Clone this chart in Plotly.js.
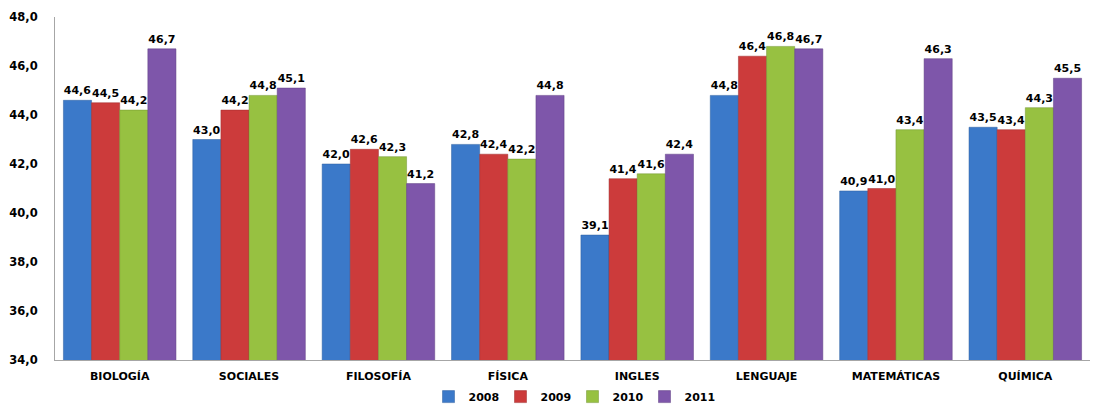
<!DOCTYPE html>
<html><head><meta charset="utf-8">
<script src="https://cdn.plot.ly/plotly-3.0.1.min.js"></script>
<style>html,body{margin:0;padding:0;background:#fff;}#chart{width:1099px;height:411px;}</style>
</head><body><div id="chart"></div>
<script>
const categories = ["BIOLOGÍA","SOCIALES","FILOSOFÍA","FÍSICA","INGLES","LENGUAJE","MATEMÁTICAS","QUÍMICA"];
const years = ["2008","2009","2010","2011"];
const v2008 = [44.6,43.0,42.0,42.8,39.1,44.8,40.9,43.5];
const v2009 = [44.5,44.2,42.6,42.4,41.4,46.4,41.0,43.4];
const v2010 = [44.2,44.8,42.3,42.2,41.6,46.8,43.4,44.3];
const v2011 = [46.7,45.1,41.2,44.8,42.4,46.7,46.3,45.5];
const colors = ["#3b79c9","#cc3b3b","#97c141","#7e56aa"];
const lines = ["#2d5f9e","#9e2d2d","#739432","#5f3f82"];
const series = [v2008,v2009,v2010,v2011];
const font = "DejaVu Sans, Verdana, sans-serif";
const traces = series.map((vals,i)=>({
  type:"bar", name:years[i], x:categories, y:vals,
  marker:{color:colors[i], line:{color:lines[i], width:0.5}},
  texttemplate:"%{y:.1f}", textposition:"outside", cliponaxis:false,
  textfont:{family:font, size:11, color:"#000", weight:"bold"}
}));
Plotly.newPlot("chart", traces, {
  width:1099, height:411,
  margin:{l:55, r:9, t:17, b:51, autoexpand:false},
  barmode:"group", bargap:0.13, bargroupgap:0,
  separators:",.",
  paper_bgcolor:"#fff", plot_bgcolor:"#fff",
  font:{family:font, size:11, color:"#000", weight:"bold"},
  xaxis:{showline:true, linecolor:"#a6a6a6", linewidth:1, ticks:"", ticklabelstandoff:6, tickfont:{family:font,size:11,weight:"bold"}},
  yaxis:{range:[34,48], dtick:2, tickformat:".1f", showgrid:false, showline:true, linecolor:"#a6a6a6", linewidth:1, ticks:"", ticklabelstandoff:14, zeroline:false, tickfont:{family:font,size:11.5,weight:"bold"}},
  showlegend:true,
  legend:{orientation:"h", x:0.5, xanchor:"center", y:0.035, yanchor:"middle", yref:"container",
    font:{family:font,size:11,weight:"bold"}, entrywidth:27, entrywidthmode:"pixels", traceorder:"normal"}
}, {displayModeBar:false, staticPlot:true});
</script></body></html>
